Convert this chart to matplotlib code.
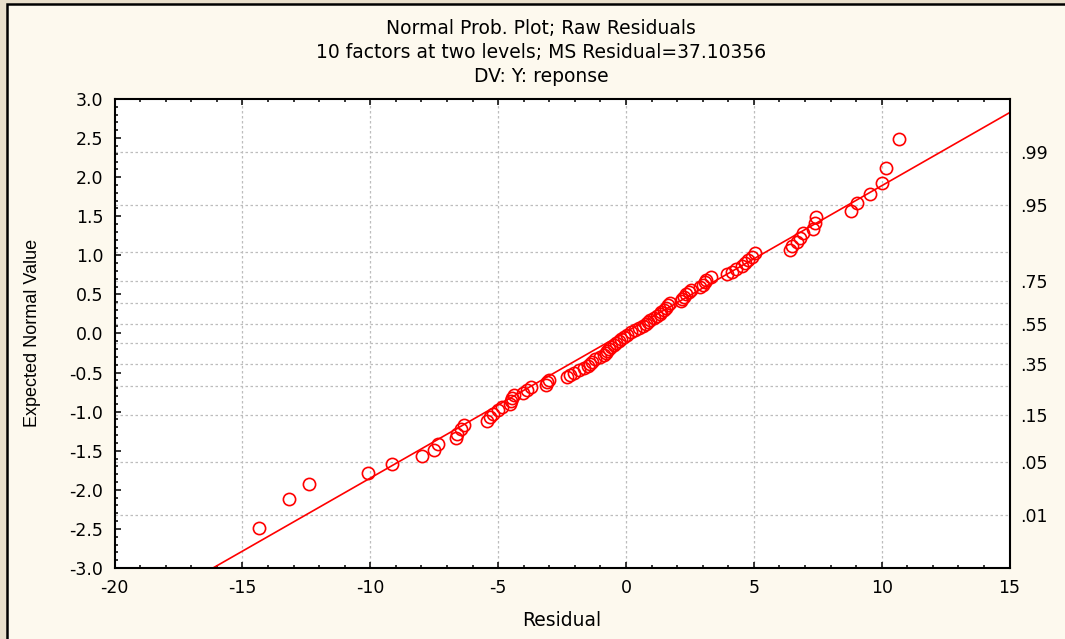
"""Normal probability plot of raw residuals (Statistica-style look)."""

from statistics import NormalDist

import matplotlib

matplotlib.use("Agg")
import matplotlib.pyplot as plt
import numpy as np
from matplotlib.patches import Rectangle
from matplotlib.ticker import MultipleLocator, FormatStrFormatter

# residuals, lowest to highest (96 runs)
RESIDUALS = [
    -14.33, -13.19, -12.41, -10.07, -9.13, -7.97, -7.52, -7.33, -6.66, -6.61,
    -6.45, -6.35, -5.45, -5.31, -5.18, -5.02, -4.85, -4.55, -4.49, -4.45,
    -4.38, -4.02, -3.87, -3.71, -3.11, -3.07, -3.01, -2.30, -2.19, -2.03,
    -1.83, -1.64, -1.48, -1.40, -1.33, -1.21, -1.01, -0.86, -0.78, -0.74,
    -0.66, -0.58, -0.48, -0.39, -0.27, -0.19, -0.09, 0.04, 0.20, 0.36,
    0.51, 0.67, 0.79, 0.86, 0.96, 1.08, 1.22, 1.33, 1.39, 1.49,
    1.57, 1.65, 1.72, 2.15, 2.21, 2.27, 2.35, 2.45, 2.55, 2.90,
    3.02, 3.09, 3.15, 3.33, 3.94, 4.14, 4.31, 4.53, 4.66, 4.79,
    4.92, 5.05, 6.42, 6.48, 6.68, 6.81, 6.94, 7.33, 7.40, 7.42,
    8.80, 9.03, 9.55, 10.03, 10.17, 10.68,
]

# reference line
LINE_INTERCEPT = 0.02
LINE_SLOPE = 0.187

GRID_PROBS = [.01, .05, .15, .25, .35, .45, .55, .65, .75, .85, .95, .99]
LABEL_PROBS = [.01, .05, .15, .35, .55, .75, .95, .99]

TITLE_LINES = [
    "Normal Prob. Plot; Raw Residuals",
    "10 factors at two levels; MS Residual=37.10356",
    "DV: Y: reponse",
]

OUTER = "#E9DFCB"
PANEL = "#FDF9EE"
W, H = 1065, 639

plt.rcParams["font.family"] = ["DejaVu Sans"]
plt.rcParams["axes.unicode_minus"] = False
FS_TICK = 12.5
FS_TEXT = 13.5

nd = NormalDist()
res = np.sort(np.array(RESIDUALS))
n = len(res)
expected = np.array([nd.inv_cdf((i - 0.375) / (n + 0.25)) for i in range(1, n + 1)])

fig = plt.figure(figsize=(W / 100, H / 100), dpi=100, facecolor=OUTER)
fig.add_artist(
    Rectangle((7 / W, -0.1), 1.2, 1.1 - 4 / H, transform=fig.transFigure,
              facecolor=PANEL, edgecolor="black", linewidth=1.8, zorder=-10)
)

ax = fig.add_axes([114.5 / W, 1 - 568 / H, 895 / W, 469 / H])
ax.set_facecolor("white")
ax.set_xlim(-20, 15)
ax.set_ylim(-3, 3)

ax.xaxis.set_major_locator(MultipleLocator(5))
ax.xaxis.set_minor_locator(MultipleLocator(1))
ax.yaxis.set_major_locator(MultipleLocator(0.5))
ax.yaxis.set_minor_locator(MultipleLocator(0.1))
ax.yaxis.set_major_formatter(FormatStrFormatter("%.1f"))
ax.tick_params(which="both", direction="in", top=True, right=True,
               width=1.1, labelsize=FS_TICK, colors="black")
ax.tick_params(which="major", length=4.5)
ax.tick_params(which="minor", length=2.2)
ax.tick_params(axis="y", pad=8)
ax.tick_params(axis="x", pad=8)
for sp in ax.spines.values():
    sp.set_linewidth(1.5)

# grid: vertical at major x ticks, horizontal at probability levels
for xv in range(-15, 15, 5):
    ax.axvline(xv, color="#BDBDBD", lw=0.9, ls=(0, (2, 2)), zorder=0.5)
for p in GRID_PROBS:
    ax.axhline(nd.inv_cdf(p), color="#BDBDBD", lw=0.9, ls=(0, (2, 2)), zorder=0.5)

xs = np.array([-20, 15])
ax.plot(xs, LINE_INTERCEPT + LINE_SLOPE * xs, color="red", lw=1.2, zorder=2)
ax.plot(res, expected, "o", ms=8.8, mfc="none", mec="red", mew=1.2, zorder=3)

ax2 = ax.twinx()
ax2.set_ylim(-3, 3)
ax2.set_yticks([nd.inv_cdf(p) for p in LABEL_PROBS])
ax2.set_yticklabels([f"{p:.2f}"[1:] for p in LABEL_PROBS])
ax2.tick_params(length=0, pad=8, labelsize=FS_TICK)
for sp in ax2.spines.values():
    sp.set_visible(False)

for i, line in enumerate(TITLE_LINES):
    fig.text(541 / W, 1 - (29 + 23.5 * i) / H, line, ha="center", va="center", fontsize=FS_TEXT)
fig.text(33 / W, 1 - 333 / H, "Expected Normal Value", rotation=90,
         ha="center", va="center", fontsize=13, family="Liberation Sans")
fig.text(562 / W, 1 - 620 / H, "Residual", ha="center", va="center", fontsize=FS_TEXT)

fig.savefig("out.png", dpi=100, facecolor=OUTER)
